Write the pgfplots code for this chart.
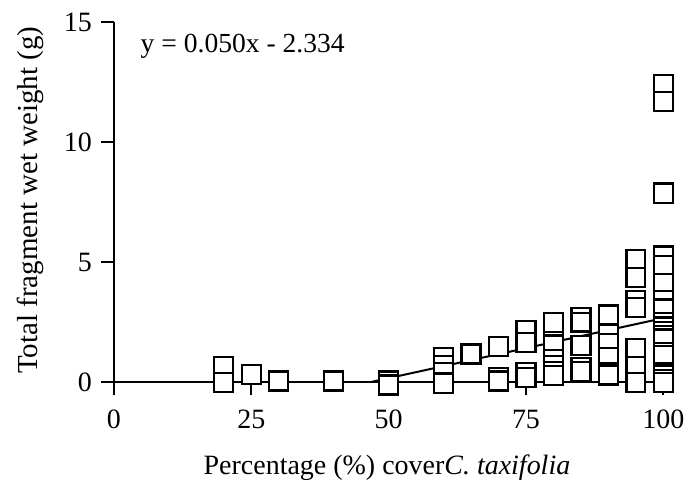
\documentclass[border=0pt]{standalone}
\usepackage{fontspec}
\setmainfont{Liberation Serif}
\usepackage{pgfplots}
\pgfplotsset{compat=1.18}
\usepackage{pgfplotstable}
\pgfplotstableread{
x y
20 0.65
20 0.0
25 0.31
30 0.05
40 0.05
50 0.05
50 -0.12
60 1.03
60 0.7
60 0.4
60 0.0
60 -0.06
65 1.17
70 1.5
70 0.2
70 0.05
75 2.14
75 1.65
75 0.4
75 0.18
80 2.48
80 1.7
80 1.55
80 0.95
80 0.7
80 0.45
80 0.27
85 2.68
85 2.5
85 1.52
85 0.6
85 0.45
90 2.8
90 2.0
90 1.6
90 1.03
90 0.4
90 0.3
95 5.1
95 4.35
95 3.4
95 3.1
95 1.4
95 0.65
95 0.0
100 12.4
100 11.7
100 7.9
100 7.85
100 5.25
100 4.85
100 4.1
100 3.4
100 3.05
100 2.5
100 2.3
100 2.1
100 1.95
100 1.8
100 1.25
100 1.1
100 0.4
100 0.3
100 0.1
100 0.0
}\pts
\pgfplotstableread{
x y
46.68 0
100 2.666
}\fit
\begin{document}
\begin{tikzpicture}
\begin{axis}[
  scale only axis,
  width=275pt, height=180.25pt,
  xmin=0, xmax=100, ymin=0, ymax=15,
  clip=false,
  axis lines=left,
  axis line style={-, line width=1.2pt},
  xtick={0,25,50,75,100},
  ytick={0,5,10,15},
  tick align=outside,
  major tick length=6.5pt,
  every tick/.style={black, line width=1.1pt},
  tick label style={font=\fontsize{14}{16}\selectfont},
  /pgf/number format/assume math mode=true,
  xticklabel style={anchor=north, yshift=-4pt},
  yticklabel style={anchor=east, xshift=-1pt},
  xlabel={Percentage (\%) cover\textit{C. taxifolia}},
  ylabel={Total fragment wet weight (g)},
  xlabel style={font=\fontsize{14}{16}\selectfont, at={(axis description cs:0.497,0)}, anchor=center, yshift=-42.75pt},
  ylabel style={font=\fontsize{14.5}{16}\selectfont, at={(axis description cs:-0.1527,0.505)}, anchor=center},
]
\addplot[only marks, mark=square*, mark size=4.75pt,
  mark options={fill=white, draw=black, line width=1.1pt}] table[x=x,y=y] {\pts};
\addplot[black, line width=1pt] table[x=x,y=y] {\fit};
\node[anchor=west, font=\fontsize{13.8}{16}\selectfont] at (axis cs:3.6,13.98) {y = 0.050x - 2.334};
\end{axis}
\path[use as bounding box] (-57pt,-50.25pt) rectangle (288.5pt,191.25pt);
\end{tikzpicture}
\end{document}
